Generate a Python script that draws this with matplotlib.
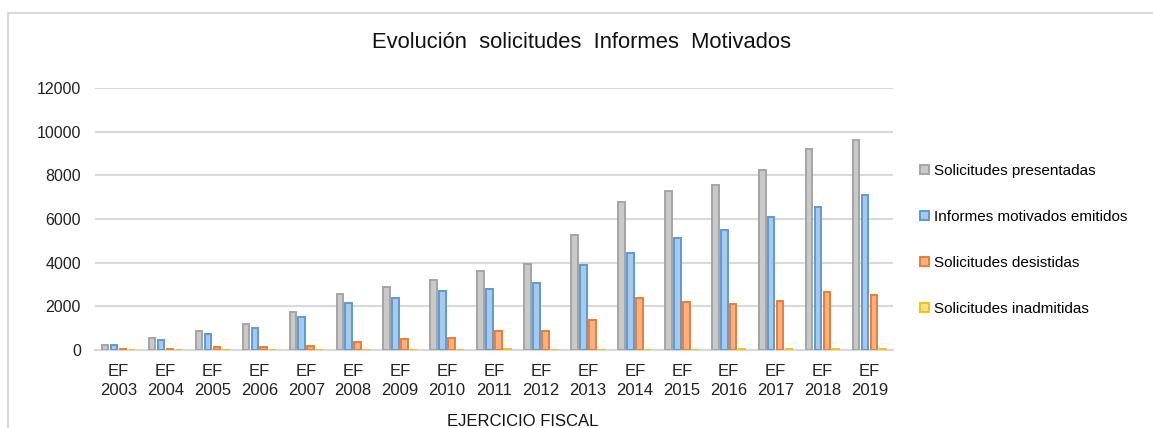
import matplotlib
matplotlib.use("Agg")
import matplotlib.pyplot as plt
from matplotlib.lines import Line2D
import numpy as np

plt.rcParams['font.family'] = ['Liberation Sans', 'DejaVu Sans']

# Datos
anios = ['2003', '2004', '2005', '2006', '2007', '2008', '2009', '2010', '2011',
         '2012', '2013', '2014', '2015', '2016', '2017', '2018', '2019']
etiquetas = ['EF\n' + a for a in anios]

presentadas = [250, 530, 890, 1210, 1750, 2560, 2900, 3220, 3620,
               3950, 5260, 6800, 7290, 7570, 8260, 9200, 9610]
emitidos = [210, 480, 750, 1010, 1510, 2150, 2370, 2690, 2790,
            3080, 3900, 4450, 5130, 5490, 6080, 6570, 7120]
desistidas = [50, 50, 130, 130, 180, 360, 500, 540, 870,
              870, 1370, 2370, 2180, 2090, 2230, 2640, 2500]
inadmitidas = [0, 0, 0, 0, 0, 0, 0, 0, 40,
               0, 0, 0, 0, 40, 40, 40, 40]

series = [
    ('Solicitudes presentadas', presentadas, '#c9c9c9', '#a5a5a5'),
    ('Informes motivados emitidos', emitidos, '#a9c8ea', '#5b9bd5'),
    ('Solicitudes desistidas', desistidas, '#f6b088', '#ed7d31'),
    ('Solicitudes inadmitidas', inadmitidas, '#ffe08a', '#ffc000'),
]

W, H = 1153, 428
fig = plt.figure(figsize=(W / 100, H / 100), dpi=100)
ax = fig.add_axes([95 / W, (H - 350) / H, (893 - 95) / W, (350 - 88) / H])

x = np.arange(len(anios))
ancho = 0.14
paso = 0.19
handles = []
for i, (nombre, vals, cara, borde) in enumerate(series):
    b = ax.bar(x + (i - 1.5) * paso, vals, width=ancho, color=cara,
               edgecolor=borde, linewidth=1.4, label=nombre, zorder=3)
    handles.append(b)

ax.set_xlim(-0.5, len(anios) - 0.5)
ax.set_ylim(0, 12000)
ax.set_yticks(np.arange(0, 12001, 2000))
ax.set_xticks(x, etiquetas)
for t in ax.get_xticklabels():
    t.set_linespacing(1.35)
ax.tick_params(axis='y', length=0, pad=10, labelsize=11.5, colors='#222222')
ax.tick_params(axis='x', length=0, pad=10, labelsize=12, colors='#222222')
ax.grid(axis='y', color='#d9d9d9', linewidth=1.5, zorder=0)
for s in ['top', 'right', 'left']:
    ax.spines[s].set_visible(False)
ax.spines['bottom'].set_color('#d9d9d9')
ax.spines['bottom'].set_linewidth(1.5)

fig.text(582 / W, 1 - 43 / H, 'Evolución  solicitudes  Informes  Motivados',
         ha='center', va='center', fontsize=15.8, color='#111111')
fig.text(523 / W, 1 - 421 / H, 'EJERCICIO FISCAL', ha='center', va='center',
         fontsize=12, color='#111111')

fig.legend(handles=handles, loc='upper left',
           bbox_to_anchor=(906 / W, 1 - 150 / H), frameon=False,
           fontsize=11, handlelength=0.6, handleheight=0.6,
           handletextpad=0.3, labelspacing=2.1)

# Marco exterior
fig.add_artist(Line2D([8 / W, 8 / W], [0, 1 - 13 / H], color='#d9d9d9',
                      linewidth=1.5, transform=fig.transFigure))
fig.add_artist(Line2D([8 / W, 1], [1 - 13 / H, 1 - 13 / H], color='#d9d9d9',
                      linewidth=1.5, transform=fig.transFigure))

fig.savefig('out.png', dpi=100)
